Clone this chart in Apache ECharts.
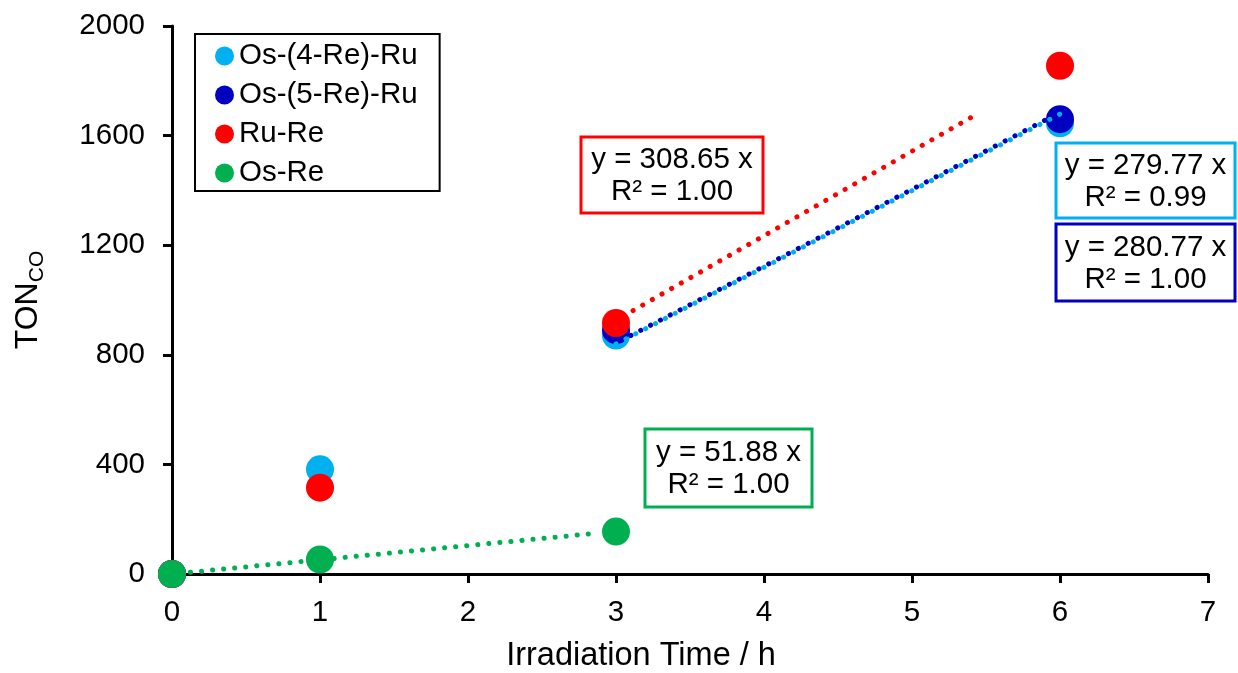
<!DOCTYPE html>
<html>
<head>
<meta charset="utf-8">
<script src="https://cdn.jsdelivr.net/npm/echarts@6/dist/echarts.min.js"></script>
<style>
html, body { margin: 0; padding: 0; background: #fff; }
#main { width: 1238px; height: 673px; }
</style>
</head>
<body>
<div id="main"></div>
<script>
// data
var hours = [0, 1, 3, 6];
var osRe4 = [0, 382, 870, 1645];
var osRe5Hours = [0, 3, 6];
var osRe5 = [0, 890, 1660];
var ruRe = [0, 315, 916, 1855];
var osReHours = [0, 1, 3];
var osRe = [0, 53, 155];

var names = ['Os-(4-Re)-Ru', 'Os-(5-Re)-Ru', 'Ru-Re', 'Os-Re'];
var colors = ['#00B0F0', '#0000C0', '#FF0000', '#00B050'];

// linear fits through origin (y = k x) and the span each one is drawn over
var slopes = [279.77, 280.77, 308.65, 51.88];
var r2 = ['0.99', '1.00', '1.00', '1.00'];
var trendFrom = [3, 3, 3.05, 0.05];
var trendTo = [6, 6, 5.45, 2.85];

var font = 'Liberation Sans, Arial, sans-serif';

function pairs(xs, ys) {
	return xs.map(function (x, i) { return [x, ys[i]]; });
}

var pointSets = [
	pairs(hours, osRe4),
	pairs(osRe5Hours, osRe5),
	pairs(hours, ruRe),
	pairs(osReHours, osRe)
];

var series = [];
pointSets.forEach(function (pts, i) {
	series.push({
		name: names[i],
		type: 'scatter',
		symbol: 'circle',
		symbolSize: 28,
		itemStyle: { color: colors[i], opacity: 1 },
		data: pts
	});
});
slopes.forEach(function (k, i) {
	series.push({
		name: 'trend ' + names[i],
		type: 'line',
		symbol: 'none',
		silent: true,
		lineStyle: {
			color: colors[i],
			width: 5,
			type: [0.1, 11],
			dashOffset: i == 1 ? 5.5 : 0,
			cap: 'round'
		},
		data: [[trendFrom[i], k * trendFrom[i]], [trendTo[i], k * trendTo[i]]]
	});
});

// equation boxes: [left, top, width, height]
var boxes = [
	[1056, 143, 179, 75],
	[1056, 224, 179, 77],
	[581, 137, 182, 76],
	[645, 429, 167, 78]
];
var graphic = [];
boxes.forEach(function (b, i) {
	graphic.push({
		type: 'rect',
		shape: { x: b[0], y: b[1], width: b[2], height: b[3] },
		style: { fill: '#fff', stroke: colors[i], lineWidth: 3 },
		z: 10
	});
	graphic.push({
		type: 'text',
		x: b[0] + b[2] / 2,
		y: b[1] + b[3] / 2 + 1,
		style: {
			text: 'y = ' + slopes[i].toFixed(2) + ' x\nR² = ' + r2[i],
			font: '29.5px ' + font,
			fill: '#000',
			align: 'center',
			verticalAlign: 'middle',
			lineHeight: 32
		},
		z: 11
	});
});

var axisCommon = {
	type: 'value',
	axisLine: { show: true, lineStyle: { color: '#000', width: 3 } },
	axisTick: { show: true, length: 9, lineStyle: { color: '#000', width: 3 } },
	splitLine: { show: false },
	nameLocation: 'middle'
};

var myChart = echarts.init(document.getElementById('main'));
var option = {
	animation: false,
	backgroundColor: '#fff',
	textStyle: { fontFamily: font },
	grid: { left: 172, right: 30, top: 26, bottom: 99, outerBoundsMode: 'none' },
	legend: {
		data: names,
		orient: 'vertical',
		left: 195,
		top: 34,
		icon: 'circle',
		itemWidth: 19,
		itemHeight: 19,
		itemGap: 9,
		padding: [7, 22, 3, 20],
		borderColor: '#000',
		borderWidth: 2,
		backgroundColor: '#fff',
		textStyle: { fontSize: 29.5, color: '#000', fontFamily: font, lineHeight: 28 }
	},
	xAxis: Object.assign({}, axisCommon, {
		min: 0,
		max: 7,
		interval: 1,
		axisLabel: { fontSize: 29.5, color: '#000', margin: 24, fontFamily: font },
		name: 'Irradiation Time / h',
		nameGap: 66,
		nameTextStyle: { fontSize: 32.5, color: '#000', fontFamily: font, padding: [0, 98, 0, 0] }
	}),
	yAxis: Object.assign({}, axisCommon, {
		min: 0,
		max: 2000,
		interval: 400,
		axisLabel: {
			fontSize: 29.5, color: '#000', margin: 27, fontFamily: font,
			formatter: function (v) { return String(v); }
		},
		name: '{a|TON}{b|CO}',
		nameGap: 124,
		nameTextStyle: {
			rich: {
				a: { fontSize: 32, color: '#000', fontFamily: font, lineHeight: 40 },
				b: { fontSize: 21, color: '#000', fontFamily: font, lineHeight: 22, verticalAlign: 'bottom' }
			}
		}
	}),
	series: series,
	graphic: graphic
};
myChart.setOption(option);
</script>
</body>
</html>
